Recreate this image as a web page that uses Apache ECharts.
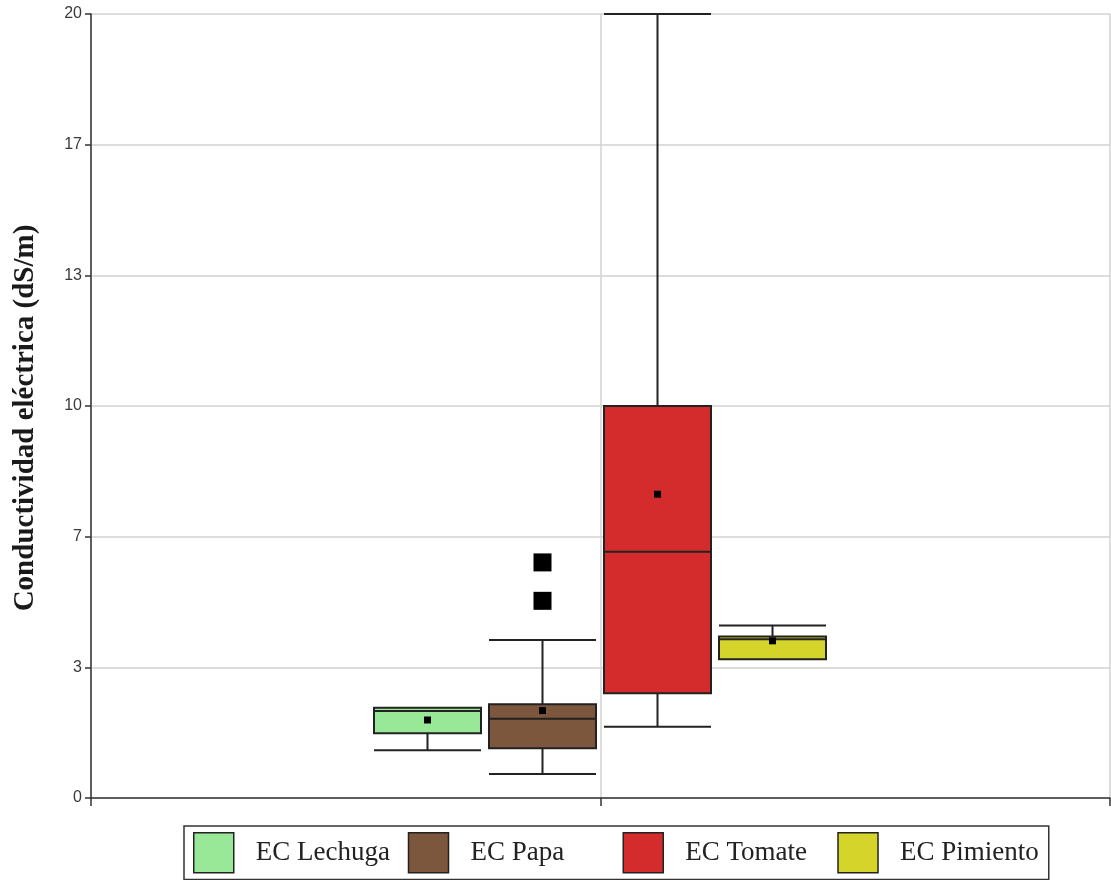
<!DOCTYPE html>
<html>
<head>
<meta charset="utf-8">
<script src="https://cdn.jsdelivr.net/npm/echarts@6/dist/echarts.min.js"></script>
<style>
  html, body { margin: 0; padding: 0; background: #ffffff; }
  #chart { width: 1111px; height: 880px; }
</style>
</head>
<body>
<div id="chart"></div>
<script>
// Electrical conductivity (dS/m) per crop: box summaries, means and outliers
const crops = ['EC Lechuga', 'EC Papa', 'EC Tomate', 'EC Pimiento'];
const cropColors = ['#98E898', '#7D573D', '#D42C2C', '#D4D42A'];

// [min, Q1, median, Q3, max]
const lechuga = [1.22, 1.65, 2.22, 2.30, 2.30];
const papa = [0.61, 1.27, 2.02, 2.39, 4.03];
const tomate = [1.82, 2.67, 6.28, 10.0, 20.0];
const pimiento = [3.54, 3.54, 4.05, 4.12, 4.40];

const means = [1.99, 2.23, 7.75, 4.01];
const papaOutliers = [6.01, 5.03];

const yTickLabels = ['0', '3', '7', '10', '13', '17', '20'];

const summaries = [lechuga, papa, tomate, pimiento];

const chart = echarts.init(document.getElementById('chart'), null, { renderer: 'canvas' });

const gridLine = { show: true, lineStyle: { color: '#d2d2d2', width: 1.5 } };
const axisDark = { show: true, lineStyle: { color: '#333333', width: 1.5 } };

// hidden category axes (one per crop) so each box sits centred on its own slot
const boxAxes = crops.map(() => ({
  type: 'category',
  gridIndex: 1,
  data: crops,
  show: false
}));

const boxSeries = summaries.map((s, i) => ({
  name: crops[i],
  type: 'boxplot',
  xAxisIndex: 1 + i,
  yAxisIndex: 1,
  boxWidth: [107, 107],
  encode: { x: 0, y: [1, 2, 3, 4, 5] },
  data: [[crops[i]].concat(s)],
  itemStyle: { color: cropColors[i], borderColor: '#222222', borderWidth: 2 },
  emphasis: { disabled: true },
  z: 3
}));

chart.setOption({
  animation: false,
  backgroundColor: '#ffffff',
  grid: [
    { left: 91, right: 1, top: 14, bottom: 82 },
    { left: 370, right: 281, top: 14, bottom: 82 }
  ],
  xAxis: [
    {
      type: 'value',
      gridIndex: 0,
      min: 0,
      max: 2,
      interval: 1,
      axisLine: axisDark,
      axisTick: { show: true, length: 8, lineStyle: { color: '#333333', width: 1.5 } },
      axisLabel: { show: false },
      splitLine: gridLine
    }
  ].concat(boxAxes),
  yAxis: [
    {
      type: 'value',
      gridIndex: 0,
      min: 0,
      max: 20,
      interval: 20 / 6,
      name: 'Conductividad eléctrica (dS/m)',
      nameLocation: 'middle',
      nameGap: 51,
      nameTextStyle: {
        fontFamily: 'Liberation Serif',
        fontWeight: 'bold',
        fontSize: 29,
        color: '#1a1a1a',
        padding: [0, 24, 0, 0]
      },
      axisLine: axisDark,
      axisTick: { show: true, length: 6, lineStyle: { color: '#333333', width: 1.5 } },
      axisLabel: {
        margin: 9,
        fontFamily: 'Liberation Sans',
        fontSize: 16,
        color: '#3a3a3a',
        formatter: (v, idx) => yTickLabels[idx]
      },
      splitLine: gridLine
    },
    { type: 'value', gridIndex: 1, min: 0, max: 20, show: false }
  ],
  legend: {
    data: crops.map((c, i) => ({ name: c, itemStyle: { color: cropColors[i] } })),
    left: 184,
    top: 826,
    orient: 'horizontal',
    icon: 'rect',
    itemWidth: 40,
    itemHeight: 40,
    itemGap: 14,
    padding: [6, 10, 6, 9],
    borderColor: '#333333',
    borderWidth: 1.5,
    itemStyle: { borderColor: '#222222', borderWidth: 1.5 },
    selectedMode: false,
    textStyle: {
      fontFamily: 'Liberation Serif',
      fontSize: 27,
      color: '#222222',
      width: 138,
      padding: [0, 0, 0, 17],
      // transparent box so every label slot keeps the same width
      backgroundColor: 'rgba(255,255,255,0)'
    }
  },
  series: boxSeries.concat([
    {
      name: 'Media',
      type: 'scatter',
      xAxisIndex: 1,
      yAxisIndex: 1,
      symbol: 'rect',
      symbolSize: 7,
      itemStyle: { color: '#000000', opacity: 1 },
      data: means.map((m, i) => [crops[i], m]),
      emphasis: { disabled: true },
      z: 5
    },
    {
      name: 'Atípicos',
      type: 'scatter',
      xAxisIndex: 2,
      yAxisIndex: 1,
      symbol: 'rect',
      symbolSize: 18,
      itemStyle: { color: '#000000', opacity: 1 },
      data: papaOutliers.map(v => [crops[1], v]),
      emphasis: { disabled: true },
      z: 5
    }
  ])
});
</script>
</body>
</html>
